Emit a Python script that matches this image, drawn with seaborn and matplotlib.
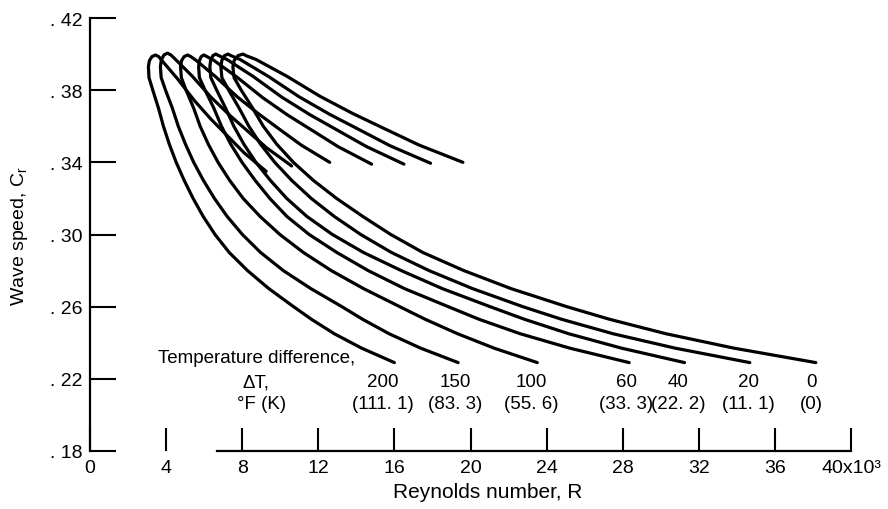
import matplotlib
matplotlib.use("Agg")
import numpy as np
import pandas as pd
import matplotlib.pyplot as plt
import seaborn as sns

# temperature difference of each curve, deg F and (K)
delta_T_F = [200, 150, 100, 60, 40, 20, 0]
delta_T_K = ["(111. 1)", "(83. 3)", "(55. 6)", "(33. 3)", "(22. 2)", "(11. 1)", "(0)"]

# lower branch: Reynolds number (x10^3) read at these wave speeds
lower_cr = [0.229, 0.237, 0.245, 0.253, 0.26, 0.27, 0.28, 0.29, 0.30, 0.31,
            0.32, 0.33, 0.34, 0.35, 0.36, 0.37, 0.38, 0.387, 0.393]
lower_R = {
    200: [16.0, 14.28, 12.84, 11.64, 10.7, 9.4, 8.28, 7.32, 6.57, 5.95,
          5.42, 4.95, 4.53, 4.17, 3.86, 3.60, 3.30, 3.10, 3.07],
    150: [19.35, 17.38, 15.72, 14.33, 13.24, 11.61, 10.16, 8.97, 8.01, 7.21,
          6.54, 5.96, 5.45, 5.02, 4.64, 4.33, 3.97, 3.74, 3.70],
    100: [23.51, 21.24, 19.32, 17.62, 16.28, 14.38, 12.68, 11.22, 9.98, 8.94,
          8.05, 7.34, 6.73, 6.22, 5.79, 5.45, 5.05, 4.80, 4.76],
    60: [28.34, 25.22, 22.61, 20.45, 18.83, 16.53, 14.62, 12.98, 11.52, 10.35,
         9.45, 8.68, 7.99, 7.40, 6.91, 6.51, 6.05, 5.75, 5.71],
    40: [31.25, 27.94, 25.16, 22.84, 21.03, 18.52, 16.36, 14.38, 12.74, 11.40,
         10.34, 9.48, 8.72, 8.09, 7.56, 7.13, 6.66, 6.35, 6.30],
    20: [34.68, 30.76, 27.49, 24.79, 22.75, 20.11, 17.82, 15.85, 14.23, 12.84,
         11.63, 10.60, 9.71, 8.97, 8.35, 7.84, 7.29, 6.93, 6.88],
    0: [38.15, 33.85, 30.27, 27.31, 25.06, 22.13, 19.65, 17.50, 15.81, 14.34,
        12.96, 11.74, 10.69, 9.82, 9.11, 8.55, 7.95, 7.57, 7.51],
}

# rounded nose, between leftmost point and top
nose_R = {
    200: [3.12, 3.255], 150: [3.75, 3.885], 100: [4.81, 4.945],
    60: [5.75, 5.845], 40: [6.34, 6.455], 20: [6.93, 7.065], 0: [7.58, 7.775],
}
nose_cr = {
    200: [0.3963, 0.3986], 150: [0.3968, 0.3995], 100: [0.3963, 0.3986],
    60: [0.3963, 0.3986], 40: [0.3965, 0.3991], 20: [0.3965, 0.3991],
    0: [0.3965, 0.3991],
}

# upper branch, from top of nose to its end
upper_R = {
    200: [3.44, 3.61, 3.79, 4.60, 5.48, 6.35, 7.22, 8.10, 9.26],
    150: [4.07, 4.24, 4.46, 5.38, 6.36, 7.34, 8.31, 9.29, 10.6],
    100: [5.13, 5.30, 5.58, 6.62, 7.74, 8.87, 9.99, 11.11, 12.6],
    60: [5.98, 6.15, 6.51, 7.74, 9.07, 10.39, 11.71, 13.04, 14.8],
    40: [6.61, 6.78, 7.20, 8.59, 10.07, 11.56, 13.04, 14.52, 16.5],
    20: [7.25, 7.42, 7.89, 9.38, 10.98, 12.58, 14.17, 15.77, 17.9],
    0: [8.04, 8.21, 8.73, 10.35, 12.09, 13.82, 15.55, 17.29, 19.6],
}
upper_cr = {
    200: [0.3995, 0.3986, 0.3963, 0.3863, 0.3743, 0.3640, 0.3547, 0.3453, 0.335],
    150: [0.4005, 0.3996, 0.3974, 0.3877, 0.3761, 0.3661, 0.3571, 0.3480, 0.338],
    100: [0.3995, 0.3986, 0.3965, 0.3873, 0.3763, 0.3668, 0.3581, 0.3495, 0.340],
    60: [0.3995, 0.3986, 0.3965, 0.3871, 0.3759, 0.3662, 0.3575, 0.3487, 0.339],
    40: [0.400, 0.3991, 0.397, 0.3875, 0.3762, 0.3664, 0.3576, 0.3488, 0.339],
    20: [0.400, 0.3991, 0.397, 0.3876, 0.3764, 0.3667, 0.358, 0.3492, 0.3395],
    0: [0.400, 0.3991, 0.397, 0.3877, 0.3766, 0.3670, 0.3583, 0.3496, 0.340],
}

# where the labels sit under each curve
label_R = [15.4, 19.2, 23.2, 28.2, 30.9, 34.6, 37.9]

rows = []
for dT in delta_T_F:
    R = lower_R[dT] + nose_R[dT] + upper_R[dT]
    C = lower_cr + nose_cr[dT] + upper_cr[dT]
    for k, (r, c) in enumerate(zip(R, C)):
        rows.append({"dT": dT, "order": k, "R": r, "Cr": c})
df = pd.DataFrame(rows)

sns.set_theme(style="white")
plt.rcParams["font.family"] = ["Liberation Sans", "DejaVu Sans"]
plt.rcParams["text.color"] = "black"

fig = plt.figure(figsize=(8.88, 5.10), dpi=100)
ax = fig.add_axes([90 / 888, 58 / 510, 761 / 888, 433 / 510])

sns.lineplot(data=df, x="R", y="Cr", units="dT", estimator=None, sort=False,
             color="black", lw=2.3, ax=ax)
for line in ax.lines:
    line.set_solid_capstyle("round")
    line.set_solid_joinstyle("round")

ax.set_xlim(0, 40)
ax.set_ylim(0.18, 0.42)

ax.spines["top"].set_visible(False)
ax.spines["right"].set_visible(False)
for s in ["left", "bottom"]:
    ax.spines[s].set_color("black")
    ax.spines[s].set_linewidth(1.6)
ax.spines["bottom"].set_bounds(6.7, 40)

yt = [0.18, 0.22, 0.26, 0.30, 0.34, 0.38, 0.42]
ax.set_yticks(yt)
ax.set_yticklabels([". 18", ". 22", ". 26", ". 30", ". 34", ". 38", ". 42"])
xt = list(range(0, 41, 4))
ax.set_xticks(xt)
ax.set_xticklabels([str(v) for v in xt[:-1]] + ["40x10³"])

ax.tick_params(axis="y", left=True, direction="in", length=19, width=1.5,
               color="black", labelsize=14, pad=5.5, labelcolor="black")
ax.tick_params(axis="x", bottom=True, direction="in", length=16.5, width=1.5,
               color="black", labelsize=14, pad=6, labelcolor="black")

ax.set_xlabel("")
ax.set_ylabel("")
fig.text(20 / 888, 1 - 236 / 510, "Wave speed, C$_\\mathregular{r}$", rotation=90,
         ha="center", va="center", fontsize=14)
fig.text(488 / 888, 1 - 498 / 510, "Reynolds number, R", ha="center",
         va="baseline", fontsize=15)

ax.text(3.57, 0.2293, "Temperature difference,", ha="left", va="baseline",
        fontsize=13.5)
ax.text(8.7, 0.2160, "ΔT,", ha="center", va="baseline", fontsize=13.5)
ax.text(9.0, 0.2038, "°F (K)", ha="center", va="baseline", fontsize=13.5)
for i, dT in enumerate(delta_T_F):
    ax.text(label_R[i], 0.2160, str(dT), ha="center", va="baseline", fontsize=13.5)
    ax.text(label_R[i], 0.2038, delta_T_K[i], ha="center", va="baseline",
            fontsize=13.5)

fig.savefig("out.png", dpi=100)
